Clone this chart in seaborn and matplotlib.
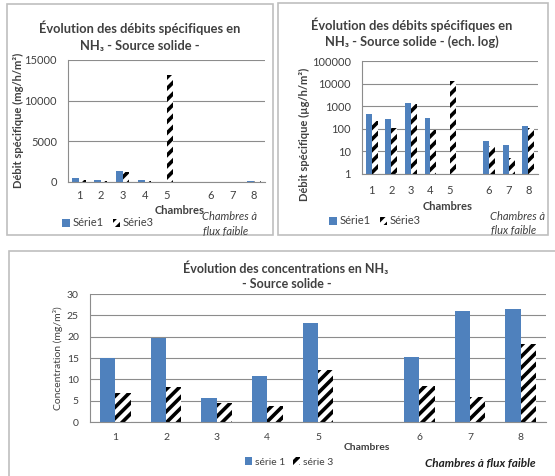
import numpy as np
import pandas as pd
import seaborn as sns
import matplotlib.pyplot as plt
from matplotlib.patches import Patch, Rectangle

# data
chambres = ['1', '2', '3', '4', '5', '6', '7', '8']
ordre = ['1', '2', '3', '4', '5', ' ', '6', '7', '8']   # blank slot between 5 and 6
debit_serie1 = [436, 263, 1350, 290, np.nan, 28, 20, 139]
debit_serie3 = [215, 110, 1230, 87, 13200, 17, 5, 110]
conc_serie1 = [15.0, 19.8, 5.6, 10.8, 23.3, 15.3, 26.1, 26.6]
conc_serie3 = [6.9, 8.3, 4.4, 3.8, 12.3, 8.4, 5.9, 18.3]
lin_ticks = [0, 5000, 10000, 15000]
log_ticks = [1, 10, 100, 1000, 10000, 100000]
conc_ticks = [0, 5, 10, 15, 20, 25, 30]

BLUE = '#4F81BD'
GRID = '#8C8C8C'
TXT = '#404040'
W, H = 555, 476

sns.set_theme(style='white')
plt.rcParams['font.family'] = ['Lato', 'DejaVu Sans']
plt.rcParams['hatch.linewidth'] = 2.6


def box(l, t, r, b):
    return [l / W, 1 - b / H, (r - l) / W, (b - t) / H]


def pt(x, y):
    return x / W, 1 - y / H


def long_df(s1, s3, n1, n3):
    return pd.DataFrame({
        'chambre': chambres * 2,
        'valeur': list(s1) + list(s3),
        'serie': [n1] * len(chambres) + [n3] * len(chambres),
    })


def draw_bars(ax, df, n1, n3):
    sns.barplot(data=df, x='chambre', y='valeur', hue='serie', order=ordre,
                hue_order=[n1, n3], palette=[BLUE, 'white'], width=0.6,
                legend=False, ax=ax, errorbar=None, saturation=1)
    for bar in ax.containers[1]:
        bar.set_hatch('///')
        bar.set_edgecolor('black')
        bar.set_linewidth(0)
    for bar in ax.containers[0]:
        bar.set_linewidth(0)
    ax.set_xlabel('')
    ax.set_ylabel('')
    ax.grid(axis='y', color=GRID, lw=0.8)
    ax.set_axisbelow(True)
    for s in ['top', 'right']:
        ax.spines[s].set_visible(False)
    for s in ['left', 'bottom']:
        ax.spines[s].set_color(GRID)
        ax.spines[s].set_linewidth(0.8)
    ax.tick_params(length=0, labelsize=8, labelcolor=TXT, pad=8)


def legend(fig, x, y, n1, n3, fs=7.5):
    handles = [Patch(facecolor=BLUE, lw=0),
               Patch(facecolor='white', edgecolor='black', hatch='///', lw=0)]
    fig.legend(handles, [n1, n3], loc='center', bbox_to_anchor=pt(x, y), ncol=2,
               frameon=False, fontsize=fs, handlelength=0.7, handleheight=0.7,
               handletextpad=0.2, columnspacing=0.8, labelcolor=TXT)


fig = plt.figure(figsize=(W / 100, H / 100), dpi=100)

# panel frames
for l, t, r, b in [(7, 4, 273, 235), (278, 3, 548, 235), (9, 251, 556, 480)]:
    fig.patches.append(Rectangle((l / W, 1 - b / H), (r - l) / W, (b - t) / H,
                                 transform=fig.transFigure, fill=False,
                                 edgecolor='#BFBFBF', lw=1.2))

# top-left: linear scale
ax1 = fig.add_axes(box(68, 60, 265, 182))
draw_bars(ax1, long_df(debit_serie1, debit_serie3, 'Série1', 'Série3'), 'Série1', 'Série3')
ax1.set_ylim(0, 15000)
ax1.set_yticks(lin_ticks)
ax1.set_yticklabels([str(v) for v in lin_ticks])
ax1.tick_params(axis='x', pad=6)
fig.text(*pt(140, 28), 'Évolution des débits spécifiques en', ha='center', va='center',
         fontsize=9.3, fontweight='bold', color=TXT)
fig.text(*pt(140, 46), 'NH₃ - Source solide -', ha='center', va='center',
         fontsize=9.3, fontweight='bold', color=TXT)
fig.text(*pt(18, 120), 'Débit spécifique (mg/h/m²)', rotation=90, ha='center', va='center',
         fontsize=8, fontweight='bold', color=TXT)
fig.text(*pt(180, 210), 'Chambres', ha='center', va='center', fontsize=8,
         fontweight='bold', color=TXT)
fig.text(*pt(229, 217), 'Chambres à', ha='center', va='center', fontsize=8,
         style='italic', color=TXT)
fig.text(*pt(226, 231), 'flux faible', ha='center', va='center', fontsize=8,
         style='italic', color=TXT)
legend(fig, 108, 223, 'Série1', 'Série3', fs=8)

# top-right: log scale
ax2 = fig.add_axes(box(362, 61, 538, 174))
draw_bars(ax2, long_df(debit_serie1, debit_serie3, 'Série1', 'Série3'), 'Série1', 'Série3')
ax2.set_yscale('log')
ax2.set_ylim(1, 100000)
ax2.set_yticks(log_ticks)
ax2.set_yticklabels([str(v) for v in log_ticks])
ax2.minorticks_off()
ax2.tick_params(axis='y', which='both', length=0)
fig.text(*pt(412, 25), 'Évolution des débits spécifiques en', ha='center', va='center',
         fontsize=9.3, fontweight='bold', color=TXT)
fig.text(*pt(412, 42), 'NH₃ - Source solide - (ech. log)', ha='center', va='center',
         fontsize=9.3, fontweight='bold', color=TXT)
fig.text(*pt(304, 134), 'Débit spécifique (µg/h/m²)', rotation=90, ha='center', va='center',
         fontsize=8, fontweight='bold', color=TXT)
fig.text(*pt(448, 207), 'Chambres', ha='center', va='center', fontsize=8,
         fontweight='bold', color=TXT)
fig.text(*pt(517, 216), 'Chambres à', ha='center', va='center', fontsize=8,
         style='italic', color=TXT)
fig.text(*pt(514, 230), 'flux faible', ha='center', va='center', fontsize=8,
         style='italic', color=TXT)
legend(fig, 375, 221, 'Série1', 'Série3', fs=8)

# bottom: concentrations
ax3 = fig.add_axes(box(90, 294, 546, 422))
draw_bars(ax3, long_df(conc_serie1, conc_serie3, 'série 1', 'série 3'), 'série 1', 'série 3')
ax3.set_ylim(0, 30)
ax3.set_yticks(conc_ticks)
ax3.tick_params(labelsize=7.5)
fig.text(*pt(286, 268), 'Évolution des concentrations en NH₃', ha='center', va='center',
         fontsize=9, fontweight='bold', color=TXT)
fig.text(*pt(287, 284), '- Source solide -', ha='center', va='center',
         fontsize=9, fontweight='bold', color=TXT)
fig.text(*pt(58, 358), 'Concentration (mg/m³)', rotation=90, ha='center', va='center',
         fontsize=7.5, color=TXT)
fig.text(*pt(367, 447), 'Chambres', ha='center', va='center', fontsize=7.5,
         fontweight='bold', color=TXT)
fig.text(*pt(480, 463), 'Chambres à flux faible', ha='center', va='center', fontsize=8.5,
         style='italic', fontweight='bold', color='#202020')
legend(fig, 289, 462, 'série 1', 'série 3', fs=7.5)

fig.savefig('out.png', dpi=100)
